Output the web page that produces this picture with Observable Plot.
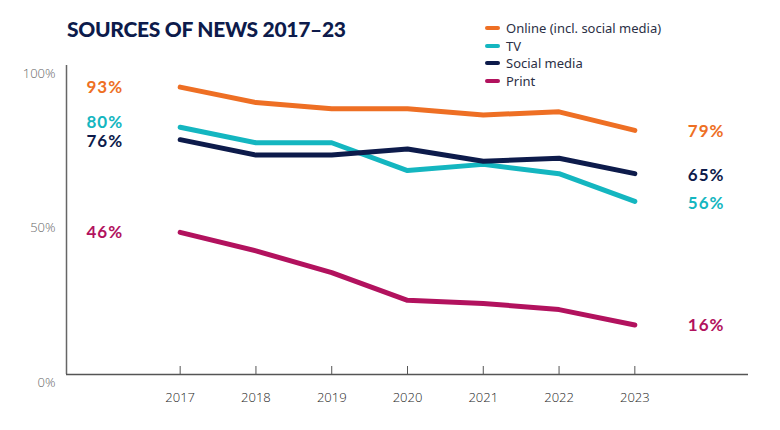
<!DOCTYPE html>
<html>
<head>
<meta charset="utf-8">
<script src="https://cdn.jsdelivr.net/npm/d3@7"></script>
<script src="https://cdn.jsdelivr.net/npm/@observablehq/plot@0.6"></script>
<style>
  html, body { margin: 0; padding: 0; background: #fff; }
  #wrap { position: relative; width: 780px; height: 430px; overflow: hidden; }
  #title { position: absolute; left: 67px; top: 16px; font-family: Lato, sans-serif; font-weight: 900;
           font-size: 21px; color: #0d1b4b; letter-spacing: -0.3px; margin: 0; }
  #legend { position: absolute; left: 485px; top: 19px; font-family: "Noto Sans", sans-serif; font-size: 13px; color: #2b2f45; }
  .row { display: flex; align-items: center; height: 17.7px; }
  .sw { width: 15px; height: 4px; border-radius: 2px; margin-right: 6px; }
  #chart { position: absolute; left: 0; top: 0; }
</style>
</head>
<body>
<div id="wrap">
  <div id="chart"></div>
  <div id="title">SOURCES OF NEWS 2017–23</div>
  <div id="legend"></div>
</div>
<script>
const years = [2017, 2018, 2019, 2020, 2021, 2022, 2023];
const seriesNames = ["Online (incl. social media)", "TV", "Social media", "Print"];
const seriesColors = ["#ee6f24", "#14b6c0", "#0d1b4b", "#b2125e"];
const online = [93, 88, 86, 86, 84, 85, 79];
const tv = [80, 75, 75, 66, 68, 65, 56];
const social = [76, 71, 71, 73, 69, 70, 65];
const print = [46, 40, 33, 24, 23, 21, 16];
const yTicks = [0, 50, 100];
const yTickLabels = ["0%", "50%", "100%"];

const valuesBySeries = [online, tv, social, print];
const data = [];
seriesNames.forEach((s, i) => years.forEach((yr, j) => data.push({series: s, year: yr, value: valuesBySeries[i][j]})));
const firsts = data.filter(d => d.year === years[0]);
const lasts = data.filter(d => d.year === years[years.length - 1]);

const color = {domain: seriesNames, range: seriesColors};
const leftNudge = {"Online (incl. social media)": 0, "TV": -5, "Social media": 2, "Print": 0};
const rightNudge = {"Online (incl. social media)": 1, "TV": 2, "Social media": 2, "Print": 0};

const chart = Plot.plot({
  width: 780,
  height: 430,
  marginLeft: 66,
  marginRight: 32,
  marginTop: 65,
  marginBottom: 56,
  style: {fontFamily: "'Noto Sans', sans-serif", background: "transparent"},
  x: {domain: [2015.5, 2024.5], axis: null, label: null},
  y: {domain: [0, 100], axis: null, label: null},
  color,
  marks: [
    Plot.text(yTicks, {x: 2015.5, y: (d) => d, text: (d) => yTickLabels[yTicks.indexOf(d)],
      textAnchor: "end", dx: -11, dy: 8, fontSize: 13, fill: "#666", fontFamily: "'Open Sans', sans-serif", fontWeight: 300}),
    Plot.ruleX([2015.5], {y1: 0, y2: 100, stroke: "#666", strokeWidth: 1.5}),
    Plot.ruleY([0], {x1: 2015.5, x2: 2024.5, stroke: "#555", strokeWidth: 1.5}),
    Plot.axisX(years, {tickSize: 8, dy: -8, label: null, tickFormat: () => "", color: "#555"}),
    Plot.text(years, {x: (d) => d, y: 0, dy: 23, text: (d) => String(d),
      fontSize: 13, fill: "#1e1e1e", fontFamily: "'Open Sans', sans-serif", fontWeight: 300}),
    Plot.line(data, {x: "year", y: "value", z: "series", stroke: "series", strokeWidth: 5,
      strokeLinecap: "round", strokeLinejoin: "round"}),
    Plot.text(firsts, {x: "year", y: "value", text: (d) => d.value + "%", fill: "series",
      textAnchor: "end", dx: -57, fontSize: 17, fontWeight: 700, fontFamily: "Lato, sans-serif"}),
    Plot.text(lasts, {x: "year", y: "value", text: (d) => d.value + "%", fill: "series",
      textAnchor: "start", dx: 53, fontSize: 17, fontWeight: 700, fontFamily: "Lato, sans-serif"})
  ]
});
// per-label vertical nudges for collision avoidance, and slightly wider letter spacing
const textGroups = chart.querySelectorAll("g[aria-label='text']");
[[textGroups[2], firsts, leftNudge], [textGroups[3], lasts, rightNudge]].forEach(([g, arr, nudge]) => {
  if (!g) return;
  g.setAttribute("letter-spacing", "1");
  g.querySelectorAll("text").forEach((t, i) => {
    const n = nudge[arr[i].series];
    const tr = t.getAttribute("transform") || "";
    t.setAttribute("transform", tr + ` translate(0,${n})`);
  });
});
document.getElementById("chart").appendChild(chart);

const legend = document.getElementById("legend");
seriesNames.forEach((s, i) => {
  const row = document.createElement("div");
  row.className = "row";
  row.innerHTML = `<span class="sw" style="background:${seriesColors[i]}"></span><span>${s}</span>`;
  legend.appendChild(row);
});
</script>
</body>
</html>
